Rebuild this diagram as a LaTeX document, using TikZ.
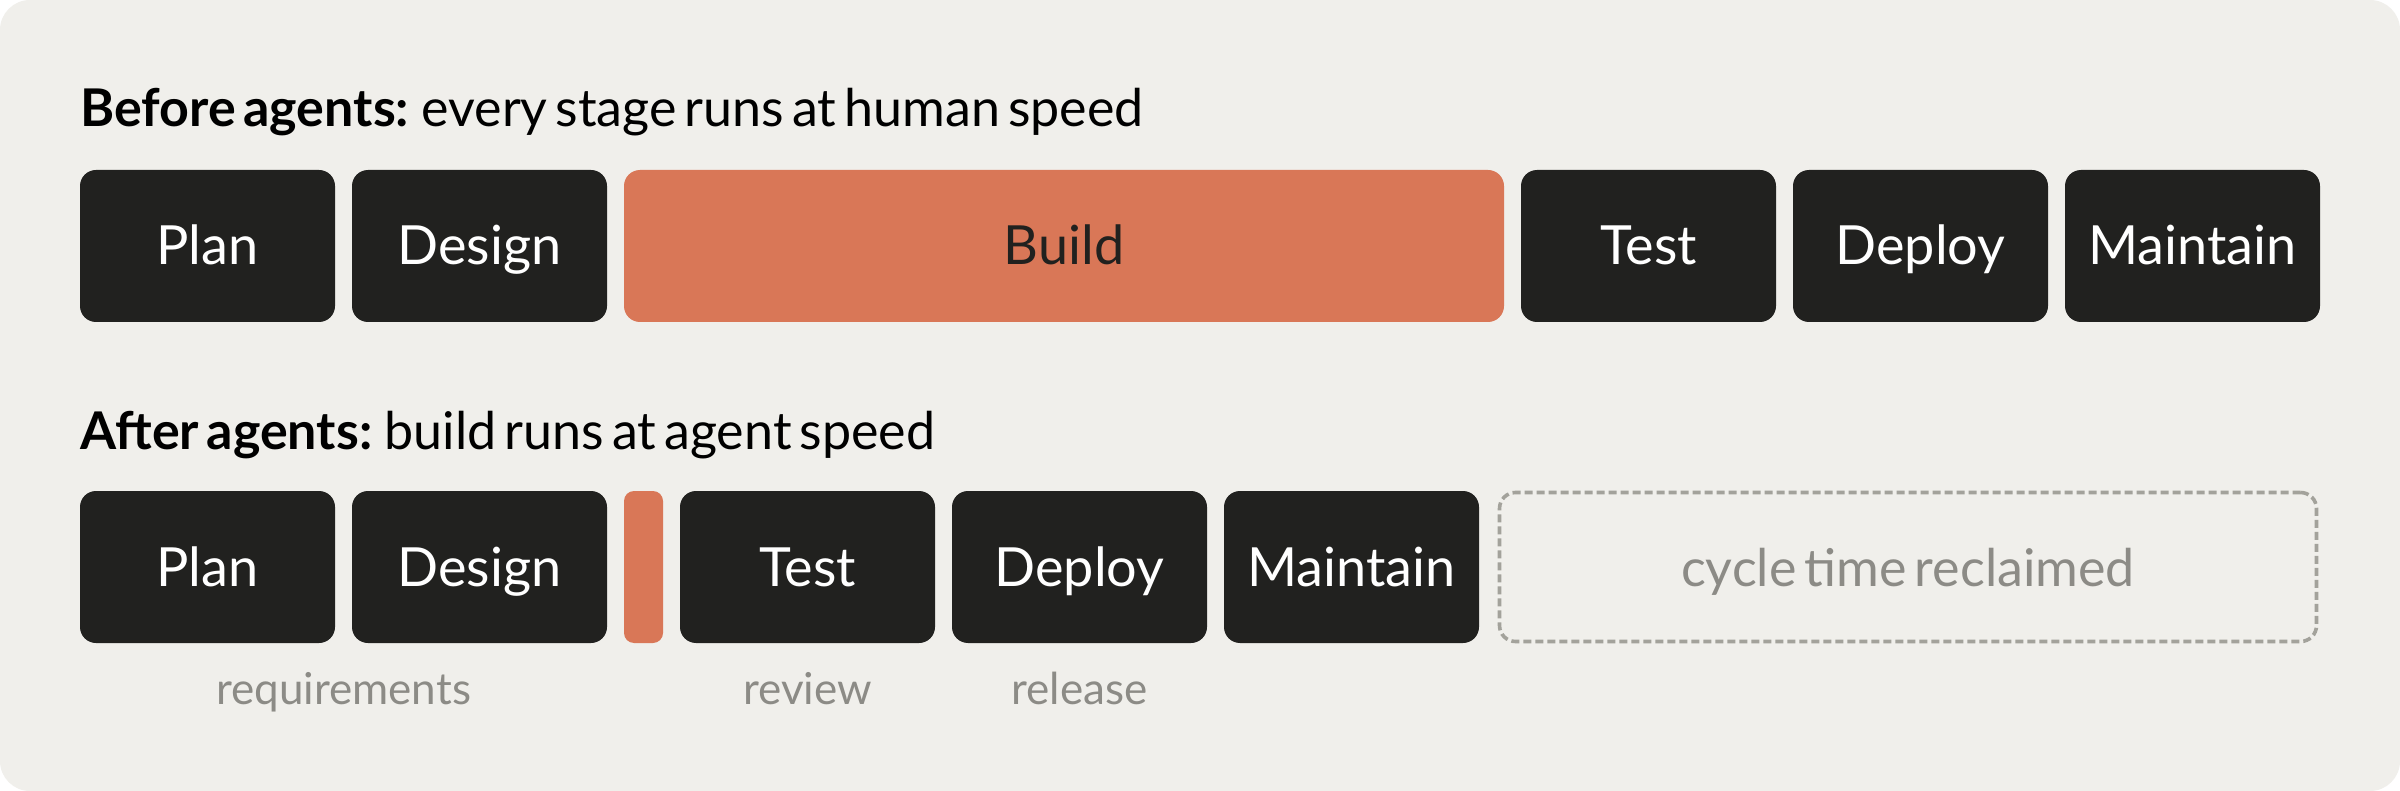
\documentclass[tikz,border=0pt]{standalone}
\usepackage{fontspec}
\setmainfont[WordSpace=0.6]{Lato}
\definecolor{bgc}{HTML}{F0EFEB}
\definecolor{darkc}{HTML}{21211F}
\definecolor{clay}{HTML}{D97757}
\definecolor{greyt}{HTML}{8C8B86}
\definecolor{dashc}{HTML}{A3A29B}
\begin{document}
\begin{tikzpicture}[x=0.5pt,y=-0.5pt,
  stage/.style={rectangle, rounded corners=8pt, fill=darkc, text=white, inner sep=0pt,
    minimum width=127.5pt, minimum height=76pt, text height=19pt, text depth=0pt,
    font=\fontsize{27}{31}\selectfont},
  buildbox/.style={stage, fill=clay, text=darkc},
  bar/.style={rectangle, rounded corners=5pt, fill=clay, inner sep=0pt, minimum width=19.5pt, minimum height=76pt},
  reclaim/.style={rectangle, rounded corners=8pt, draw=dashc, line width=1.8pt, dash pattern=on 4pt off 2pt,
    inner sep=0pt, minimum width=408.5pt, minimum height=74.5pt, text=greyt, text height=19pt, text depth=0pt,
    font=\fontsize{26}{30}\selectfont},
  heading/.style={anchor=base west, inner sep=0pt, text=black, font=\fontsize{26}{30}\selectfont},
  sublabel/.style={anchor=base, inner sep=0pt, text=greyt, font=\fontsize{22}{26}\selectfont}
]
\useasboundingbox (0,0) rectangle (2400,791);
\fill[white] (0,0) rectangle (2400,791);
\fill[bgc, rounded corners=15pt] (0,0) rectangle (2400,791);

\node[heading] (h1) at (80,127) {\textbf{Before agents:} every stage runs at human speed};
\node[stage] (p1) at (207.5,246) {Plan};
\node[stage] (d1) at (479.5,246) {Design};
\node[buildbox, minimum width=440pt] (b1) at (1064,246) {Build};
\node[stage] (t1) at (1648.5,246) {Test};
\node[stage] (y1) at (1920.5,246) {Deploy};
\node[stage] (m1) at (2192.5,246) {Maintain};

\node[heading] (h2) at (80,449) {\textbf{After agents:} build runs at agent speed};
\node[stage] (p2) at (207.5,567) {Plan};
\node[stage] (d2) at (479.5,567) {Design};
\node[bar] (b2) at (643.5,567) {};
\node[stage] (t2) at (807.5,567) {Test};
\node[stage] (y2) at (1079.5,567) {Deploy};
\node[stage] (m2) at (1351.5,567) {Maintain};
\node[reclaim] (r2) at (1908,567) {cycle time reclaimed};

\node[sublabel] (lr) at (343.5,704) {requirements};
\node[sublabel] (lv) at (807.5,704) {review};
\node[sublabel] (ll) at (1079.5,704) {release};
\end{tikzpicture}
\end{document}
